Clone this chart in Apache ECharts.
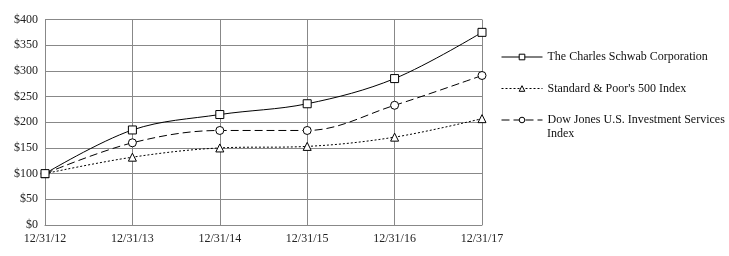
<!DOCTYPE html>
<html><head><meta charset="utf-8">
<script src="https://cdn.jsdelivr.net/npm/echarts@6/dist/echarts.min.js"></script>
<style>html,body{margin:0;padding:0;background:#fff}#c{width:729px;height:256px}</style>
</head><body><div id="c"></div>
<script>
const categories = ['12/31/12','12/31/13','12/31/14','12/31/15','12/31/16','12/31/17'];
const schwab = [100, 185, 215, 236, 285, 375];
const sp500 = [100, 132, 150, 153, 171, 207];
const dowJones = [100, 160, 184, 184, 233, 291];
const seriesNames = ['The Charles Schwab Corporation', "Standard & Poor's 500 Index", 'Dow Jones U.S. Investment Services Index'];
const legendLines = {
  'The Charles Schwab Corporation': 'The Charles Schwab Corporation',
  "Standard & Poor's 500 Index": "Standard & Poor's 500 Index",
  'Dow Jones U.S. Investment Services Index': 'Dow Jones U.S. Investment Services'
};
const legendWrap = 'Index';
const yTicks = [0, 50, 100, 150, 200, 250, 300, 350, 400];

const font = 'Liberation Serif';
const chart = echarts.init(document.getElementById('c'), null, {renderer:'canvas'});
chart.setOption({
  animation:false,
  backgroundColor:'#fff',
  grid:{left:45, right:247, top:19.5, bottom:31, containLabel:false},
  xAxis:{type:'category', data:categories, boundaryGap:false,
    axisLine:{lineStyle:{color:'#888', width:1}}, axisTick:{show:false},
    axisLabel:{color:'#222', fontFamily:font, fontSize:12, margin:8},
    splitLine:{show:true, lineStyle:{color:'#888', width:1}}},
  yAxis:{type:'value', min:yTicks[0], max:yTicks[yTicks.length-1], interval:50,
    axisLine:{show:true, lineStyle:{color:'#888'}}, axisTick:{show:false},
    axisLabel:{color:'#222', fontFamily:font, fontSize:12, margin:7, formatter:v=>'$'+v},
    splitLine:{lineStyle:{color:'#888', width:1}}},
  legend:{orient:'vertical', left:501, top:51, itemWidth:41, itemHeight:7, itemGap:19.5, padding:0,
    textStyle:{fontFamily:font, fontSize:12, color:'#111'},
    lineStyle:{width:1}, itemStyle:{borderWidth:1},
    formatter:n=>legendLines[n],
    data:seriesNames},
  graphic:[{type:'text', x:547, y:134, style:{text:legendWrap, font:'12px "Liberation Serif"', fill:'#111', verticalAlign:'middle', textVerticalAlign:'middle'}}],
  series:[
    {name:seriesNames[0], type:'line', data:schwab, smooth:0.35, symbol:'rect', symbolSize:8,
      itemStyle:{color:'#fff', borderColor:'#000', borderWidth:1},
      lineStyle:{color:'#000', width:1, type:'solid'}, z:3},
    {name:seriesNames[1], type:'line', data:sp500, smooth:0.35, symbol:'triangle', symbolSize:8,
      itemStyle:{color:'#fff', borderColor:'#000', borderWidth:1},
      lineStyle:{color:'#000', width:1, type:[2,2]}, z:2},
    {name:seriesNames[2], type:'line', data:dowJones, smooth:0.35, symbol:'circle', symbolSize:8,
      itemStyle:{color:'#fff', borderColor:'#000', borderWidth:1},
      lineStyle:{color:'#000', width:1, type:[8,4]}, z:2}
  ]
});
</script></body></html>
